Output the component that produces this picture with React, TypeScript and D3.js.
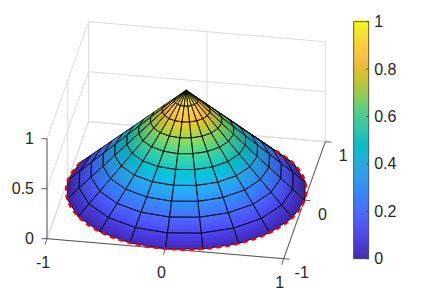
import React from "react";
import * as d3 from "d3";

// ---- data ----
const ringRadii = [0, 0.1, 0.2, 0.3, 0.4, 0.5, 0.6, 0.7, 0.8, 0.9, 1];
const ringHeights = [1, 0.9, 0.8, 0.7, 0.6, 0.5, 0.4, 0.3, 0.2, 0.1, 0];
const spokeDegrees = [0, 18, 36, 54, 72, 90, 108, 126, 144, 162, 180, 198, 216, 234, 252, 270, 288, 306, 324, 342, 360];
const xTicks = [-1, 0, 1];
const yTicks = [-1, 0, 1];
const zTicks = [0, 0.5, 1];
const colorbarTicks = [0, 0.2, 0.4, 0.6, 0.8, 1];
const parulaStops = [
  [0.2422, 0.1504, 0.6603], [0.2578, 0.1818, 0.7511], [0.2706, 0.2147, 0.8364], [0.2783, 0.2559, 0.8991],
  [0.2813, 0.3006, 0.9414], [0.2795, 0.3447, 0.9717], [0.2699, 0.3892, 0.9906], [0.2440, 0.4358, 0.9988],
  [0.1963, 0.4847, 0.9892], [0.1786, 0.5289, 0.9682], [0.1687, 0.5703, 0.9359], [0.1460, 0.6091, 0.9079],
  [0.1248, 0.6459, 0.8883], [0.0952, 0.6798, 0.8598], [0.0297, 0.7082, 0.8163], [0.0067, 0.7312, 0.7660],
  [0.0964, 0.7500, 0.7120], [0.1717, 0.7670, 0.6554], [0.2161, 0.7843, 0.5923], [0.2906, 0.7973, 0.5188],
  [0.3909, 0.8029, 0.4354], [0.5044, 0.7993, 0.3480], [0.6174, 0.7876, 0.2612], [0.7242, 0.7698, 0.1910],
  [0.8203, 0.7498, 0.1535], [0.9035, 0.7330, 0.1774], [0.9728, 0.7298, 0.2394], [0.9970, 0.7659, 0.2199],
  [0.9892, 0.8086, 0.1816], [0.9676, 0.8639, 0.1492], [0.9597, 0.9135, 0.1423], [0.9769, 0.9839, 0.0805],
];

// ---- projection ----
const W = 423, H = 294;
const CX = 186.15, CY = 190.2;
const xToPx = d3.scaleLinear().domain([-1, 1]).range([-118.35, 118.35]);
const xToPy = d3.scaleLinear().domain([-1, 1]).range([-10, 10]);
const yToPx = d3.scaleLinear().domain([-1, 1]).range([-20.8, 20.8]);
const yToPy = d3.scaleLinear().domain([-1, 1]).range([58.5, -58.5]);
const zToPy = d3.scaleLinear().domain([0, 1]).range([0, -100]);
type P = [number, number];
const proj = (x: number, y: number, z: number): P => [CX + xToPx(x) + yToPx(y), CY + xToPy(x) + yToPy(y) + zToPy(z)];

const stopDomain = parulaStops.map((_, i) => i / (parulaStops.length - 1));
const channel = (k: number) => d3.scaleLinear().domain(stopDomain).range(parulaStops.map((s) => s[k] * 255)).clamp(true);
const cr = channel(0), cg = channel(1), cb = channel(2);
const parula = (v: number, f = 1) => `rgb(${Math.min(255, cr(v) * f).toFixed(0)},${Math.min(255, cg(v) * f).toFixed(0)},${Math.min(255, cb(v) * f).toFixed(0)})`;

// lighting: headlight near the viewer
const viewAngle = (-80 * Math.PI) / 180;
const light = (tRad: number) => {
  const d = Math.cos(tRad - viewAngle);
  return 0.88 + 0.2 * Math.max(0, d);
};

const pathOf = (pts: P[]) => "M" + pts.map((p) => `${p[0].toFixed(2)},${p[1].toFixed(2)}`).join("L") + "Z";

const rad = (d: number) => (d * Math.PI) / 180;
const vert = (i: number, j: number): P =>
  proj(ringRadii[i] * Math.cos(rad(spokeDegrees[j])), ringRadii[i] * Math.sin(rad(spokeDegrees[j])), ringHeights[i]);

const isFront = (j: number) => {
  const a = vert(ringRadii.length - 1, j), b = vert(ringRadii.length - 1, j + 1), c = vert(0, 0);
  return (b[0] - a[0]) * (c[1] - a[1]) - (b[1] - a[1]) * (c[0] - a[0]) < 0;
};

const SUB_T = 4, SUB_R = 4;
const patches: { d: string; fill: string }[] = [];
const cells: string[] = [];
spokeDegrees.slice(0, -1).forEach((_, j) => {
  if (!isFront(j)) return;
  ringRadii.slice(0, -1).forEach((_, i) => {
    const a = vert(i, j), b = vert(i, j + 1), c = vert(i + 1, j + 1), e = vert(i + 1, j);
    cells.push(pathOf([a, b, c, e]));
    for (let u = 0; u < SUB_T; u++) {
      for (let v = 0; v < SUB_R; v++) {
        const q = (s: number, w: number): P => {
          const top: P = [a[0] + (b[0] - a[0]) * s, a[1] + (b[1] - a[1]) * s];
          const bot: P = [e[0] + (c[0] - e[0]) * s, e[1] + (c[1] - e[1]) * s];
          return [top[0] + (bot[0] - top[0]) * w, top[1] + (bot[1] - top[1]) * w];
        };
        const s0 = u / SUB_T, s1 = (u + 1) / SUB_T, w0 = v / SUB_R, w1 = (v + 1) / SUB_R;
        const zv = ringHeights[i] + (ringHeights[i + 1] - ringHeights[i]) * ((w0 + w1) / 2);
        const t = rad(spokeDegrees[j] + (spokeDegrees[j + 1] - spokeDegrees[j]) * ((s0 + s1) / 2));
        patches.push({ d: pathOf([q(s0, w0), q(s1, w0), q(s1, w1), q(s0, w1)]), fill: parula(zv, light(t)) });
      }
    }
  });
});

// visible part of the rim, smoothed through the mesh vertices
const rimIdx = spokeDegrees.map((_, j) => j);
const frontRim: P[] = [];
const startJ = rimIdx.find((j) => j < spokeDegrees.length - 1 && isFront(j) && !isFront((j + 19) % 20)) ?? 0;
for (let k = 0; k <= 20; k++) {
  const j = (startJ + k) % 20;
  frontRim.push(vert(ringRadii.length - 1, j));
  if (!isFront(j)) break;
}
const rimPath = d3.line<P>().curve(d3.curveCatmullRom)(frontRim) as string;

const GRID = "#dcdcdc", AXIS = "#4a4a4a", TEXT = "#262626";
const font = { fontFamily: "'Liberation Sans', Arial, sans-serif", fontSize: 16, fill: TEXT };

const cbX0 = 353.7, cbX1 = 368.7;
const cbY = d3.scaleLinear().domain([0, 1]).range([258.7, 21.7]);
const cbSteps = d3.range(0, 1, 1 / 237);

const Seg = ({ a, b, c, w }: { a: P; b: P; c: string; w: number }) => (
  <line x1={a[0]} y1={a[1]} x2={b[0]} y2={b[1]} stroke={c} strokeWidth={w} />
);

export default function App() {
  return (
    <svg width={W} height={H} viewBox={`0 0 ${W} ${H}`} style={{ position: "absolute", left: 0, top: 0, background: "#fff" }}>
      {/* back wall, side wall, floor */}
      <g>
        {zTicks.map((z) => <Seg key={"bw" + z} a={proj(-1, 1, z)} b={proj(1, 1, z)} c={GRID} w={1} />)}
        {xTicks.map((x) => <Seg key={"bv" + x} a={proj(x, 1, 0)} b={proj(x, 1, 1)} c={GRID} w={1} />)}
        {zTicks.map((z) => <Seg key={"sw" + z} a={proj(-1, -1, z)} b={proj(-1, 1, z)} c={GRID} w={1} />)}
        {yTicks.map((y) => <Seg key={"sv" + y} a={proj(-1, y, 0)} b={proj(-1, y, 1)} c={GRID} w={1} />)}
        {xTicks.map((x) => <Seg key={"fx" + x} a={proj(x, -1, 0)} b={proj(x, 1, 0)} c={GRID} w={1} />)}
        {yTicks.map((y) => <Seg key={"fy" + y} a={proj(-1, y, 0)} b={proj(1, y, 0)} c={GRID} w={1} />)}
      </g>
      {/* axes */}
      <g>
        <Seg a={proj(-1, -1, 0)} b={proj(-1, -1, 1)} c={AXIS} w={0.9} />
        <Seg a={proj(-1, -1, 0)} b={proj(1, -1, 0)} c={AXIS} w={0.9} />
        <Seg a={proj(1, -1, 0)} b={proj(1, 1, 0)} c={AXIS} w={0.9} />
        {zTicks.map((z) => {
          const p = proj(-1, -1, z);
          return (
            <g key={"zt" + z}>
              <Seg a={p} b={[p[0] - 5.5, p[1]]} c={AXIS} w={0.9} />
              <text x={34} y={p[1] + 5.5} textAnchor="end" {...font}>{z}</text>
            </g>
          );
        })}
        {xTicks.map((x) => {
          const p = proj(x, -1, 0);
          return (
            <g key={"xt" + x}>
              <Seg a={p} b={[p[0] - 2, p[1] + 6]} c={AXIS} w={0.9} />
              <text x={p[0] - 4} y={p[1] + 29.5} textAnchor="middle" {...font}>{x}</text>
            </g>
          );
        })}
        {yTicks.map((y) => {
          const p = proj(1, y, 0);
          return (
            <g key={"yt" + y}>
              <Seg a={p} b={[p[0] + 6, p[1] + 0.5]} c={AXIS} w={0.9} />
              <text x={p[0] + 18} y={p[1] + 19.7} textAnchor="middle" {...font}>{y}</text>
            </g>
          );
        })}
      </g>
      {/* surface */}
      <g>
        {patches.map((p, i) => <path key={i} d={p.d} fill={p.fill} stroke={p.fill} strokeWidth={0.9} />)}
        {cells.map((d, i) => <path key={i} d={d} fill="none" stroke="#0a0a0a" strokeWidth={0.75} strokeLinejoin="round" />)}
      </g>
      <path d={rimPath} fill="none" stroke="#f00000" strokeWidth={2.4} strokeDasharray="5 4" />
      {/* colorbar */}
      <g>
        {cbSteps.map((v, i) => (
          <rect key={i} x={cbX0} width={cbX1 - cbX0} y={cbY(v) - 1.5} height={1.6} fill={parula(v)} />
        ))}
        <rect x={cbX0} y={21.7} width={cbX1 - cbX0} height={237} fill="none" stroke={AXIS} strokeWidth={0.9} />
        {colorbarTicks.map((v) => (
          <g key={"cb" + v}>
            <Seg a={[cbX1, cbY(v)]} b={[cbX1 - 2.5, cbY(v)]} c={AXIS} w={0.9} />
            <text x={374.2} y={cbY(v) + 5.5} {...font}>{v}</text>
          </g>
        ))}
      </g>
    </svg>
  );
}
